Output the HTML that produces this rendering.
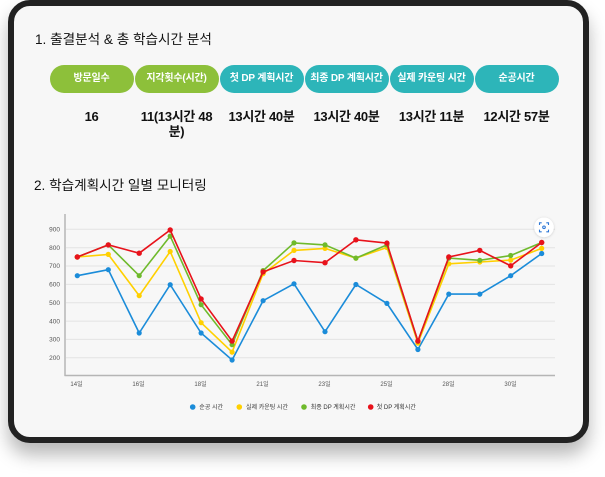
<!DOCTYPE html>
<html>
<head>
<meta charset="utf-8">
<style>
html,body{margin:0;padding:0;}
body{width:605px;height:477px;background:#fff;overflow:hidden;position:relative;font-family:"Liberation Sans","Noto Sans CJK KR",sans-serif;}
.frame{position:absolute;left:8px;top:0;width:581px;height:443px;box-sizing:border-box;border:6px solid #222;border-radius:22px;background:#f7f7f7;box-shadow:0 12px 18px rgba(0,0,0,0.28);}
.h{position:absolute;font-size:13.6px;line-height:16px;color:#111;white-space:nowrap;}
.pill{position:absolute;top:65px;height:28px;width:84px;border-radius:14px;color:#fff;font-size:10px;font-weight:bold;line-height:28px;text-align:center;white-space:nowrap;letter-spacing:-0.2px;}
.g{background:#8dc03a;}
.t{background:#2db5b9;}
.v{position:absolute;top:109px;width:84px;text-align:center;font-size:13px;font-weight:bold;line-height:15px;color:#111;white-space:nowrap;letter-spacing:-0.3px;}
svg{position:absolute;left:0;top:0;}
</style>
</head>
<body>
<div class="frame"></div>
<div class="h" style="left:35px;top:32px;">1. 출결분석 &amp; 총 학습시간 분석</div>

<div class="pill g" style="left:49.5px;">방문일수</div>
<div class="pill g" style="left:134.5px;">지각횟수(시간)</div>
<div class="pill t" style="left:219.5px;">첫 DP 계획시간</div>
<div class="pill t" style="left:304.5px;">최종 DP 계획시간</div>
<div class="pill t" style="left:389.5px;">실제 카운팅 시간</div>
<div class="pill t" style="left:474.5px;">순공시간</div>

<div class="v" style="left:49.5px;">16</div>
<div class="v" style="left:134.5px;">11(13시간 48<br>분)</div>
<div class="v" style="left:219.5px;">13시간 40분</div>
<div class="v" style="left:304.5px;">13시간 40분</div>
<div class="v" style="left:389.5px;">13시간 11분</div>
<div class="v" style="left:474.5px;">12시간 57분</div>

<div class="h" style="left:34px;top:178px;">2. 학습계획시간 일별 모니터링</div>

<svg width="605" height="477" viewBox="0 0 605 477" xmlns="http://www.w3.org/2000/svg">
  <g stroke="#e3e3e3" stroke-width="1">
    <line x1="66" y1="229.3" x2="555" y2="229.3"/>
    <line x1="66" y1="247.7" x2="555" y2="247.7"/>
    <line x1="66" y1="266.0" x2="555" y2="266.0"/>
    <line x1="66" y1="284.4" x2="555" y2="284.4"/>
    <line x1="66" y1="302.7" x2="555" y2="302.7"/>
    <line x1="66" y1="321.1" x2="555" y2="321.1"/>
    <line x1="66" y1="339.4" x2="555" y2="339.4"/>
    <line x1="66" y1="357.8" x2="555" y2="357.8"/>
  </g>
  <line x1="65" y1="214" x2="65" y2="376" stroke="#b5b5b5" stroke-width="1.5"/>
  <line x1="64.5" y1="375.5" x2="555" y2="375.5" stroke="#b5b5b5" stroke-width="1.5"/>
  <g font-family="Liberation Sans, sans-serif" font-size="6.5" fill="#555" text-anchor="end">
    <text x="60" y="231.5">900</text>
    <text x="60" y="249.9">800</text>
    <text x="60" y="268.2">700</text>
    <text x="60" y="286.6">600</text>
    <text x="60" y="304.9">500</text>
    <text x="60" y="323.3">400</text>
    <text x="60" y="341.6">300</text>
    <text x="60" y="360.0">200</text>
  </g>
  <g font-family="Liberation Sans, Noto Sans CJK KR, sans-serif" font-size="6" fill="#555" text-anchor="middle">
    <text x="76.5" y="386">14일</text>
    <text x="138.5" y="386">16일</text>
    <text x="200.5" y="386">18일</text>
    <text x="262.5" y="386">21일</text>
    <text x="324.5" y="386">23일</text>
    <text x="386.5" y="386">25일</text>
    <text x="448.5" y="386">28일</text>
    <text x="510.5" y="386">30일</text>
  </g>

  <g stroke="#1b8cd9" fill="#1b8cd9">
    <polyline fill="none" stroke-width="1.6" points="77.3,275.7 108.3,269.7 139.2,333.0 170.2,284.7 201.1,333.0 232.1,360.0 263.1,300.7 294.0,283.8 325.0,331.7 355.9,284.5 386.9,303.4 417.9,349.5 448.8,294.1 479.8,294.1 510.7,275.7 541.7,253.5"/>
    <g stroke="none">
      <circle cx="77.3" cy="275.7" r="2.6"/><circle cx="108.3" cy="269.7" r="2.6"/><circle cx="139.2" cy="333.0" r="2.6"/><circle cx="170.2" cy="284.7" r="2.6"/>
      <circle cx="201.1" cy="333.0" r="2.6"/><circle cx="232.1" cy="360.0" r="2.6"/><circle cx="263.1" cy="300.7" r="2.6"/><circle cx="294.0" cy="283.8" r="2.6"/>
      <circle cx="325.0" cy="331.7" r="2.6"/><circle cx="355.9" cy="284.5" r="2.6"/><circle cx="386.9" cy="303.4" r="2.6"/><circle cx="417.9" cy="349.5" r="2.6"/>
      <circle cx="448.8" cy="294.1" r="2.6"/><circle cx="479.8" cy="294.1" r="2.6"/><circle cx="510.7" cy="275.7" r="2.6"/><circle cx="541.7" cy="253.5" r="2.6"/>
    </g>
  </g>
  <g stroke="#ffd000" fill="#ffd000">
    <polyline fill="none" stroke-width="1.6" points="77.3,257.0 108.3,254.4 139.2,295.7 170.2,251.5 201.1,322.7 232.1,352.1 263.1,273.7 294.0,250.4 325.0,248.4 355.9,258.1 386.9,247.5 417.9,343.1 448.8,263.8 479.8,262.0 510.7,260.1 541.7,248.4"/>
    <g stroke="none">
      <circle cx="77.3" cy="257.0" r="2.6"/><circle cx="108.3" cy="254.4" r="2.6"/><circle cx="139.2" cy="295.7" r="2.6"/><circle cx="170.2" cy="251.5" r="2.6"/>
      <circle cx="201.1" cy="322.7" r="2.6"/><circle cx="232.1" cy="352.1" r="2.6"/><circle cx="263.1" cy="273.7" r="2.6"/><circle cx="294.0" cy="250.4" r="2.6"/>
      <circle cx="325.0" cy="248.4" r="2.6"/><circle cx="355.9" cy="258.1" r="2.6"/><circle cx="386.9" cy="247.5" r="2.6"/><circle cx="417.9" cy="343.1" r="2.6"/>
      <circle cx="448.8" cy="263.8" r="2.6"/><circle cx="479.8" cy="262.0" r="2.6"/><circle cx="510.7" cy="260.1" r="2.6"/><circle cx="541.7" cy="248.4" r="2.6"/>
    </g>
  </g>
  <g stroke="#6fba2c" fill="#6fba2c">
    <polyline fill="none" stroke-width="1.6" points="77.3,257.0 108.3,244.9 139.2,275.7 170.2,236.1 201.1,304.7 232.1,344.7 263.1,270.6 294.0,242.9 325.0,244.9 355.9,258.1 386.9,244.9 417.9,341.2 448.8,258.1 479.8,260.3 510.7,255.5 541.7,242.5"/>
    <g stroke="none">
      <circle cx="77.3" cy="257.0" r="2.6"/><circle cx="108.3" cy="244.9" r="2.6"/><circle cx="139.2" cy="275.7" r="2.6"/><circle cx="170.2" cy="236.1" r="2.6"/>
      <circle cx="201.1" cy="304.7" r="2.6"/><circle cx="232.1" cy="344.7" r="2.6"/><circle cx="263.1" cy="270.6" r="2.6"/><circle cx="294.0" cy="242.9" r="2.6"/>
      <circle cx="325.0" cy="244.9" r="2.6"/><circle cx="355.9" cy="258.1" r="2.6"/><circle cx="386.9" cy="244.9" r="2.6"/><circle cx="417.9" cy="341.2" r="2.6"/>
      <circle cx="448.8" cy="258.1" r="2.6"/><circle cx="479.8" cy="260.3" r="2.6"/><circle cx="510.7" cy="255.5" r="2.6"/><circle cx="541.7" cy="242.5" r="2.6"/>
    </g>
  </g>
  <g stroke="#e8121b" fill="#e8121b">
    <polyline fill="none" stroke-width="1.6" points="77.3,257.0 108.3,244.9 139.2,253.2 170.2,230.0 201.1,299.0 232.1,341.1 263.1,271.9 294.0,260.5 325.0,262.7 355.9,239.8 386.9,243.1 417.9,341.1 448.8,257.0 479.8,250.4 510.7,265.8 541.7,242.5"/>
    <g stroke="none">
      <circle cx="77.3" cy="257.0" r="2.7"/><circle cx="108.3" cy="244.9" r="2.7"/><circle cx="139.2" cy="253.2" r="2.7"/><circle cx="170.2" cy="230.0" r="2.7"/>
      <circle cx="201.1" cy="299.0" r="2.7"/><circle cx="232.1" cy="341.1" r="2.7"/><circle cx="263.1" cy="271.9" r="2.7"/><circle cx="294.0" cy="260.5" r="2.7"/>
      <circle cx="325.0" cy="262.7" r="2.7"/><circle cx="355.9" cy="239.8" r="2.7"/><circle cx="386.9" cy="243.1" r="2.7"/><circle cx="417.9" cy="341.1" r="2.7"/>
      <circle cx="448.8" cy="257.0" r="2.7"/><circle cx="479.8" cy="250.4" r="2.7"/><circle cx="510.7" cy="265.8" r="2.7"/><circle cx="541.7" cy="242.5" r="2.7"/>
    </g>
  </g>

  <defs>
    <filter id="sh" x="-50%" y="-50%" width="200%" height="200%">
      <feDropShadow dx="0" dy="0.5" stdDeviation="1.2" flood-color="#000" flood-opacity="0.18"/>
    </filter>
  </defs>
  <circle cx="544" cy="227.3" r="9.8" fill="#fff" filter="url(#sh)"/>
  <g fill="none" stroke="#2f78d6" stroke-width="1.1">
    <path d="M539.5,225 v-2.2 h2.2"/>
    <path d="M546.3,222.8 h2.2 v2.2"/>
    <path d="M548.5,229.6 v2.2 h-2.2"/>
    <path d="M541.7,231.8 h-2.2 v-2.2"/>
    <circle cx="544" cy="227.3" r="1.3"/>
  </g>

  <g font-family="Liberation Sans, Noto Sans CJK KR, sans-serif" font-size="6" fill="#333">
    <circle cx="192.7" cy="407" r="2.8" fill="#1b8cd9"/>
    <text x="199.3" y="409">순공 시간</text>
    <circle cx="239.3" cy="407" r="2.8" fill="#ffd000"/>
    <text x="246" y="409">실제 카운팅 시간</text>
    <circle cx="304" cy="407" r="2.8" fill="#6fba2c"/>
    <text x="310.7" y="409">최종 DP 계획시간</text>
    <circle cx="370.7" cy="407" r="2.8" fill="#e8121b"/>
    <text x="376.7" y="409">첫 DP 계획시간</text>
  </g>
</svg>
</body>
</html>
